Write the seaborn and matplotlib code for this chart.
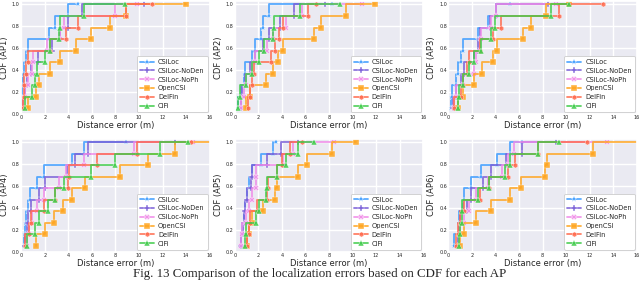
import numpy as np
import matplotlib
matplotlib.use("Agg")
import matplotlib.pyplot as plt
import seaborn as sns

# CDF levels shared by every curve (10 test points)
cdf_levels = [0.053, 0.158, 0.263, 0.368, 0.474, 0.579, 0.684, 0.789, 0.895, 1.0]

methods = ["CSILoc", "CSILoc-NoDen", "CSILoc-NoPh", "OpenCSI", "DelFin", "CiFi"]
colors = ["#3b9cff", "#7a5fd8", "#f08ae8", "#ffa51f", "#ff6a4d", "#3fcc4a"]
markers = ["*", "P", "X", "s", "h", "^"]

# distance errors (m), one list per method
ap1_errors = [
    [0.02, 0.08, 0.12, 0.22, 0.45, 0.62, 2.4, 2.9, 3.97, 4.85],
    [0.14, 0.34, 0.48, 0.85, 1.47, 2.6, 3.3, 3.97, 5.16, 10.47],
    [0.2, 0.34, 0.62, 0.9, 1.05, 2.18, 3.26, 3.6, 7.94, 9.84],
    [0.62, 1.28, 1.56, 2.41, 3.26, 4.68, 5.96, 7.52, 8.94, 13.96],
    [0.14, 0.26, 0.28, 0.43, 0.62, 2.41, 3.83, 4.79, 8.94, 11.12],
    [0.34, 0.91, 1.19, 1.33, 1.99, 2.47, 3.18, 3.26, 5.36, 8.85],
]
ap2_errors = [
    [0.29, 0.57, 0.8, 0.86, 1.51, 1.71, 2.23, 2.43, 2.94, 8.29],
    [0.57, 0.66, 0.86, 1.29, 1.71, 2.43, 2.94, 3.86, 5.0, 7.63],
    [0.57, 0.77, 0.94, 1.43, 1.71, 2.71, 3.23, 4.37, 5.71, 10.77],
    [1.0, 1.34, 2.66, 3.29, 3.71, 4.09, 6.77, 7.29, 9.43, 11.91],
    [1.14, 1.34, 1.51, 1.66, 3.1, 3.4, 3.75, 4.14, 6.2, 6.91],
    [0.29, 0.43, 1.0, 1.51, 2.06, 2.51, 3.23, 3.34, 5.51, 8.94],
]
ap3_errors = [
    [0.23, 0.29, 0.66, 0.8, 1.09, 1.23, 2.51, 3.37, 4.03, 5.23],
    [0.37, 0.66, 1.09, 1.37, 2.17, 2.51, 2.66, 3.51, 4.03, 8.46],
    [0.46, 0.66, 1.23, 2.17, 2.37, 2.66, 2.8, 3.6, 4.09, 9.14],
    [0.8, 1.23, 2.14, 2.86, 3.8, 4.17, 6.37, 7.03, 8.29, 10.23],
    [0.46, 1.09, 1.23, 1.6, 1.74, 2.66, 3.8, 4.51, 9.43, 13.17],
    [0.8, 0.94, 1.23, 1.8, 2.14, 2.74, 3.66, 3.94, 8.69, 10.23],
]
ap4_errors = [
    [0.26, 0.34, 0.43, 0.62, 0.77, 1.33, 1.9, 4.31, 5.3, 8.91],
    [0.34, 0.48, 0.62, 0.85, 1.48, 2.04, 3.89, 4.6, 5.65, 13.02],
    [0.48, 0.71, 0.91, 1.33, 1.96, 3.18, 3.83, 5.3, 9.56, 14.6],
    [1.28, 1.99, 2.81, 3.55, 4.31, 5.39, 8.37, 10.78, 13.02, 16.5],
    [0.34, 0.68, 0.82, 1.9, 2.84, 3.98, 4.03, 6.44, 9.84, 14.44],
    [0.48, 1.19, 1.48, 2.24, 2.89, 3.6, 5.96, 7.94, 11.77, 14.16],
]
ap5_errors = [
    [0.57, 0.65, 0.8, 0.85, 1.08, 1.22, 1.51, 2.19, 3.21, 3.49],
    [0.57, 0.71, 0.8, 0.85, 1.08, 1.42, 1.51, 2.78, 3.92, 5.4],
    [0.57, 0.65, 0.99, 1.22, 1.51, 1.79, 1.82, 4.12, 4.91, 8.44],
    [1.08, 1.22, 1.51, 2.36, 3.41, 3.55, 5.34, 6.11, 8.24, 10.31],
    [1.08, 1.22, 1.34, 1.85, 2.7, 2.84, 3.55, 3.98, 4.69, 5.68],
    [0.85, 0.94, 1.79, 2.07, 2.62, 2.76, 3.55, 4.35, 5.4, 6.73],
]
ap6_errors = [
    [0.46, 0.89, 0.94, 1.23, 1.37, 1.89, 2.8, 4.17, 5.23, 6.29],
    [0.8, 0.94, 1.03, 1.6, 1.89, 2.94, 3.6, 4.94, 6.29, 9.14],
    [0.94, 1.03, 1.37, 1.8, 2.37, 3.37, 4.57, 5.09, 5.6, 13.51],
    [1.03, 1.37, 2.37, 3.66, 5.23, 6.17, 8.17, 8.37, 12.31, 16.5],
    [0.66, 0.8, 1.03, 1.31, 2.66, 3.46, 5.03, 5.66, 7.6, 11.74],
    [0.94, 1.03, 1.17, 1.17, 2.51, 3.46, 4.8, 5.23, 7.6, 9.37],
]

ap_labels = ["AP1", "AP2", "AP3", "AP4", "AP5", "AP6"]
all_errors = [ap1_errors, ap2_errors, ap3_errors, ap4_errors, ap5_errors, ap6_errors]

sns.set_theme(style="darkgrid")
plt.rcParams["font.family"] = ["DejaVu Sans"]

fig, axes = plt.subplots(2, 3, figsize=(6.4, 2.82), dpi=100)
fig.subplots_adjust(left=0.033, right=0.995, top=0.996, bottom=0.108,
                    wspace=0.133, hspace=0.22)

for ax, ap, errs in zip(axes.flat, ap_labels, all_errors):
    for name, col, mk, e in zip(methods, colors, markers, errs):
        sns.lineplot(x=e, y=cdf_levels, ax=ax, color=col, marker=mk,
                     markersize=5 if mk == "*" else 3.8, markeredgewidth=0.3,
                     linewidth=1.3, alpha=0.85, drawstyle="steps-pre",
                     estimator=None, sort=False, label=name)
    ax.set_xlim(0, 16)
    ax.set_ylim(0, 1.03)
    ax.set_xticks(np.arange(0, 17, 2))
    ax.set_yticks(np.arange(0, 1.01, 0.2))
    ax.tick_params(labelsize=3.5, pad=1, length=0)
    ax.set_xlabel("Distance error (m)", fontsize=6, labelpad=0.5)
    ax.set_ylabel(f"CDF ({ap})", fontsize=6, labelpad=2)
    leg = ax.legend(loc="lower right", fontsize=4.8, frameon=True,
                    facecolor="white", edgecolor="#cccccc", framealpha=1,
                    labelspacing=0.42, handlelength=2.1, handletextpad=0.6,
                    borderpad=0.45, borderaxespad=0.3)
    leg.get_frame().set_linewidth(0.6)

fig.text(0.5, 0.03, "Fig. 13 Comparison of the localization errors based on CDF for each AP",
         ha="center", va="center", fontsize=9.3, family="Liberation Serif")

fig.savefig("out.png", dpi=100)
plt.close(fig)
